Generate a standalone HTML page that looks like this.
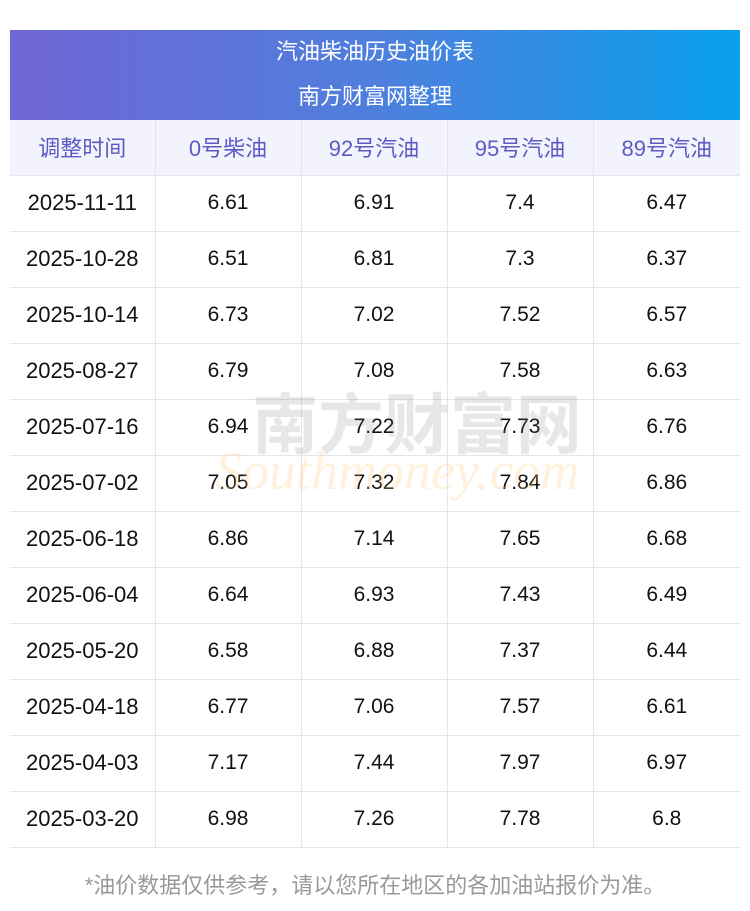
<!DOCTYPE html>
<html><head><meta charset="utf-8"><style>
body{margin:0;width:750px;height:911px;background:#fff;font-family:"Liberation Sans","Noto Sans CJK SC",sans-serif;position:relative;overflow:hidden}
.hd{position:absolute;left:10px;top:30px;width:730px;height:90px;background:linear-gradient(90deg,#7066d4,#4f7fdd 50%,#0aa0ec);color:#fff;text-align:center;font-size:22px}
.hd div{height:45px;line-height:43px}
table{position:absolute;left:10px;top:120px;width:730px;border-collapse:collapse;table-layout:fixed}
td{height:55px;border:1px solid #e4e4ec;text-align:center;font-size:21px;color:#111;padding:0}
td:first-child{font-size:22px}
tr{height:56px}
tr.h td{background:#f3f3fd;color:#5b5bc4;height:54px;font-size:22px}
tr.h{height:55px}
td:first-child{border-left:none}td:last-child{border-right:none}
tr.h td{border-top:none}
.ft{position:absolute;left:0;width:750px;top:868px;text-align:center;color:#999;font-size:22px}
.wm1{position:absolute;left:252px;top:372px;font-size:66px;color:rgba(120,120,120,0.18);font-weight:bold;letter-spacing:0px}
.wm2{position:absolute;left:215px;top:440px;font-size:54px;color:rgba(255,200,120,0.25);font-style:italic;font-family:"Liberation Serif",serif}
</style></head><body>
<div class="hd"><div>汽油柴油历史油价表</div><div>南方财富网整理</div></div>
<table>
<colgroup><col style="width:145px"><col style="width:146px"><col style="width:146px"><col style="width:146px"><col style="width:147px"></colgroup>
<tr class="h"><td>调整时间</td><td>0号柴油</td><td>92号汽油</td><td>95号汽油</td><td>89号汽油</td></tr>
<tr><td>2025-11-11</td><td>6.61</td><td>6.91</td><td>7.4</td><td>6.47</td></tr>
<tr><td>2025-10-28</td><td>6.51</td><td>6.81</td><td>7.3</td><td>6.37</td></tr>
<tr><td>2025-10-14</td><td>6.73</td><td>7.02</td><td>7.52</td><td>6.57</td></tr>
<tr><td>2025-08-27</td><td>6.79</td><td>7.08</td><td>7.58</td><td>6.63</td></tr>
<tr><td>2025-07-16</td><td>6.94</td><td>7.22</td><td>7.73</td><td>6.76</td></tr>
<tr><td>2025-07-02</td><td>7.05</td><td>7.32</td><td>7.84</td><td>6.86</td></tr>
<tr><td>2025-06-18</td><td>6.86</td><td>7.14</td><td>7.65</td><td>6.68</td></tr>
<tr><td>2025-06-04</td><td>6.64</td><td>6.93</td><td>7.43</td><td>6.49</td></tr>
<tr><td>2025-05-20</td><td>6.58</td><td>6.88</td><td>7.37</td><td>6.44</td></tr>
<tr><td>2025-04-18</td><td>6.77</td><td>7.06</td><td>7.57</td><td>6.61</td></tr>
<tr><td>2025-04-03</td><td>7.17</td><td>7.44</td><td>7.97</td><td>6.97</td></tr>
<tr><td>2025-03-20</td><td>6.98</td><td>7.26</td><td>7.78</td><td>6.8</td></tr>
</table>
<div class="wm1">南方财富网</div>
<div class="wm2">Southmoney.com</div>
<div class="ft">*油价数据仅供参考，请以您所在地区的各加油站报价为准。</div>
</body></html>
